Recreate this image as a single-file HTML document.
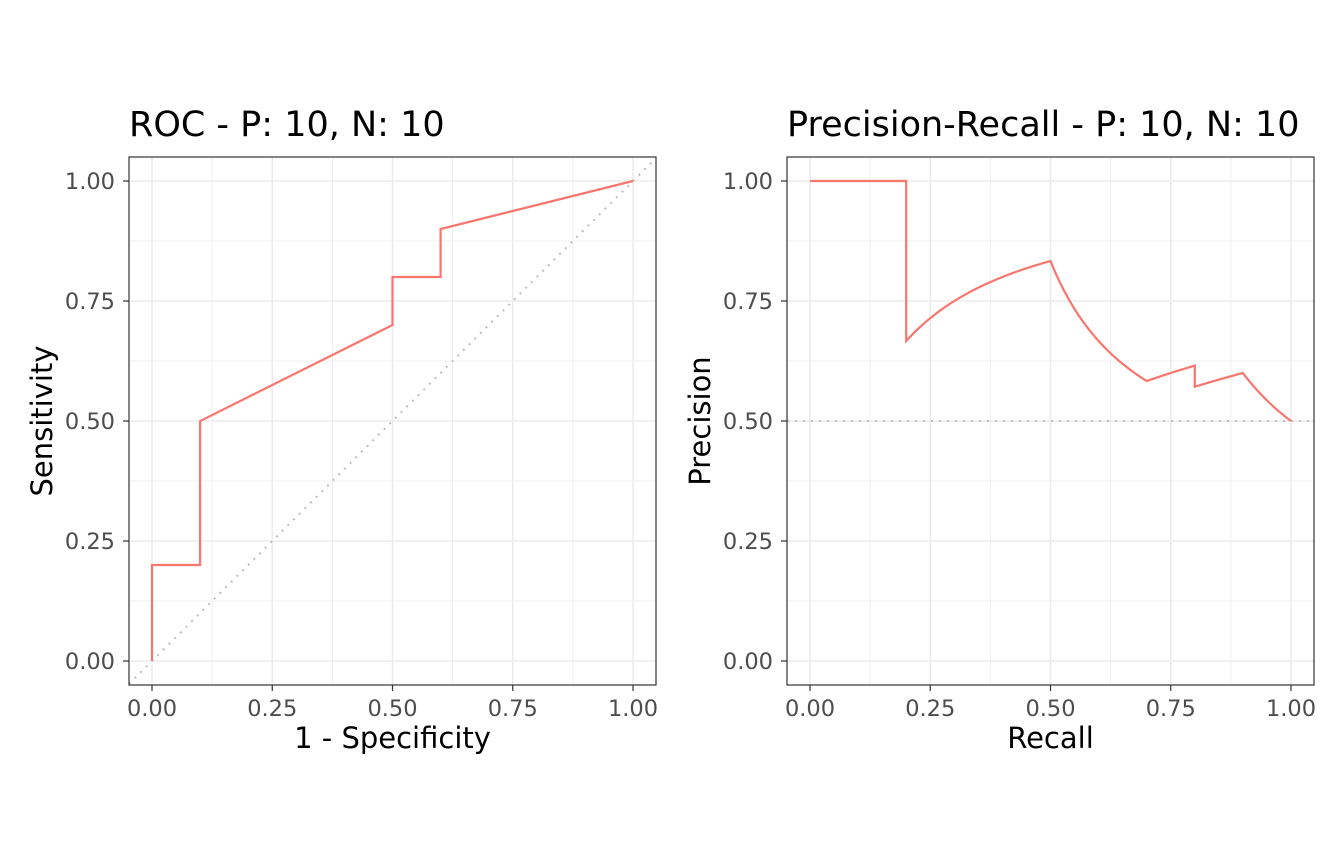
<!DOCTYPE html>
<html><head><meta charset="utf-8"><style>
body{margin:0;background:#fff}
svg{display:block;font-family:"DejaVu Sans","Liberation Sans",sans-serif}
</style></head><body>
<svg id="chart" width="1344" height="865" viewBox="0 0 1344 865"></svg>
<script>
// ROC data (false positive rate / true positive rate)
const rocFpr = [0, 0, 0.1, 0.1, 0.5, 0.5, 0.6, 0.6, 1.0];
const rocTpr = [0, 0.2, 0.2, 0.5, 0.7, 0.8, 0.8, 0.9, 1.0];
const nPos = 10;
const nNeg = 10;
const tickVals = [0, 0.25, 0.5, 0.75, 1.0];
const tickLabels = ["0.00", "0.25", "0.50", "0.75", "1.00"];
const minorVals = [0.125, 0.375, 0.625, 0.875];

const NS = "http://www.w3.org/2000/svg";
const svg = document.getElementById("chart");
function el(tag, attrs, parent) {
  const e = document.createElementNS(NS, tag);
  for (const k in attrs) e.setAttribute(k, attrs[k]);
  (parent || svg).appendChild(e);
  return e;
}

function panel(cfg) {
  const g = el("g", {});
  
  
  const x0 = cfg.left, x1 = cfg.left + 527, y0 = 157, y1 = 685;
  const sx = v => cfg.left + 23 + v * 481;
  const sy = v => 661 - v * 480;
  minorVals.forEach(v => {
    const a = el("line", {x1: sx(v), x2: sx(v), y1: y0, y2: y1, stroke: "#ebebeb", "stroke-width": 0.7}, g);
    
    
    const b = el("line", {x1: x0, x2: x1, y1: sy(v), y2: sy(v), stroke: "#ebebeb", "stroke-width": 0.7}, g);
    
    
  });
  tickVals.forEach((v, i) => {
    const a = el("line", {x1: sx(v), x2: sx(v), y1: y0, y2: y1, stroke: "#ebebeb", "stroke-width": 1.5}, g);
    
    
    const b = el("line", {x1: x0, x2: x1, y1: sy(v), y2: sy(v), stroke: "#ebebeb", "stroke-width": 1.5}, g);
    
    
    const tx = el("line", {x1: sx(v), x2: sx(v), y1: y1, y2: y1 + 6, stroke: "#333", "stroke-width": 1.2}, g);
    
    
    const ty = el("line", {x1: x0 - 6, x2: x0, y1: sy(v), y2: sy(v), stroke: "#333", "stroke-width": 1.2}, g);
    
    
    const lx = el("text", {x: sx(v), y: 716, "text-anchor": "middle", "font-size": 22.5, fill: "#4d4d4d"}, g);
    lx.textContent = tickLabels[i];
    
    
    const ly = el("text", {x: x0 - 14, y: sy(v) + 8, "text-anchor": "end", "font-size": 22.5, fill: "#4d4d4d"}, g);
    ly.textContent = tickLabels[i];
    
    
  });
  const ref = el("line", Object.assign({stroke: "#bdbdbd", "stroke-width": 2, "stroke-dasharray": "2 6"}, cfg.ref(sx, sy)), g);
  
  
  const pts = cfg.points.map(p => sx(p[0]).toFixed(2) + "," + sy(p[1]).toFixed(2)).join(" ");
  const curve = el("polyline", {points: pts, fill: "none", stroke: "#f8766d", "stroke-width": 2.2}, g);
  
  
  const border = el("rect", {x: x0, y: y0, width: 527, height: 528, fill: "none", stroke: "#333", "stroke-width": 1.2}, g);
  
  
  const t = el("text", {x: x0, y: 136, "font-size": 35, fill: "#000"}, g);
  t.textContent = cfg.title;
  
  
  const xt = el("text", {x: sx(0.5), y: 748, "text-anchor": "middle", "font-size": 29, fill: "#000"}, g);
  xt.textContent = cfg.xlab;
  
  
  const yt = el("text", {x: 0, y: 0, "text-anchor": "middle", "font-size": 29, fill: "#000", transform: `translate(${x0 - 77},${sy(0.5)}) rotate(-90)`}, g);
  yt.textContent = cfg.ylab;
  
  
}

// ROC points
const rocPts = rocFpr.map((f, i) => [f, rocTpr[i]]);

// Precision-recall derived from ROC data by interpolating TP/FP counts
const prPts = [[0, 1]];
for (let i = 1; i < rocFpr.length; i++) {
  const steps = 40;
  for (let s = 0; s <= steps; s++) {
    const t = s / steps;
    const tp = (rocTpr[i - 1] + (rocTpr[i] - rocTpr[i - 1]) * t) * nPos;
    const fp = (rocFpr[i - 1] + (rocFpr[i] - rocFpr[i - 1]) * t) * nNeg;
    if (tp + fp === 0) continue;
    prPts.push([tp / nPos, tp / (tp + fp)]);
  }
}

panel({
  name: "roc-panel", left: 129, title: "ROC - P: 10, N: 10",
  xlab: "1 - Specificity", ylab: "Sensitivity", curveName: "roc-curve",
  points: rocPts,
  ref: (sx, sy) => ({x1: 129, y1: sy((129 - sx(0)) / 481), x2: 656, y2: sy((656 - sx(0)) / 481)})
});
panel({
  name: "pr-panel", left: 787, title: "Precision-Recall - P: 10, N: 10",
  xlab: "Recall", ylab: "Precision", curveName: "pr-curve",
  points: prPts,
  ref: (sx, sy) => ({x1: 787, y1: sy(nPos / (nPos + nNeg)), x2: 1314, y2: sy(nPos / (nPos + nNeg))})
});
</script>
</body></html>
